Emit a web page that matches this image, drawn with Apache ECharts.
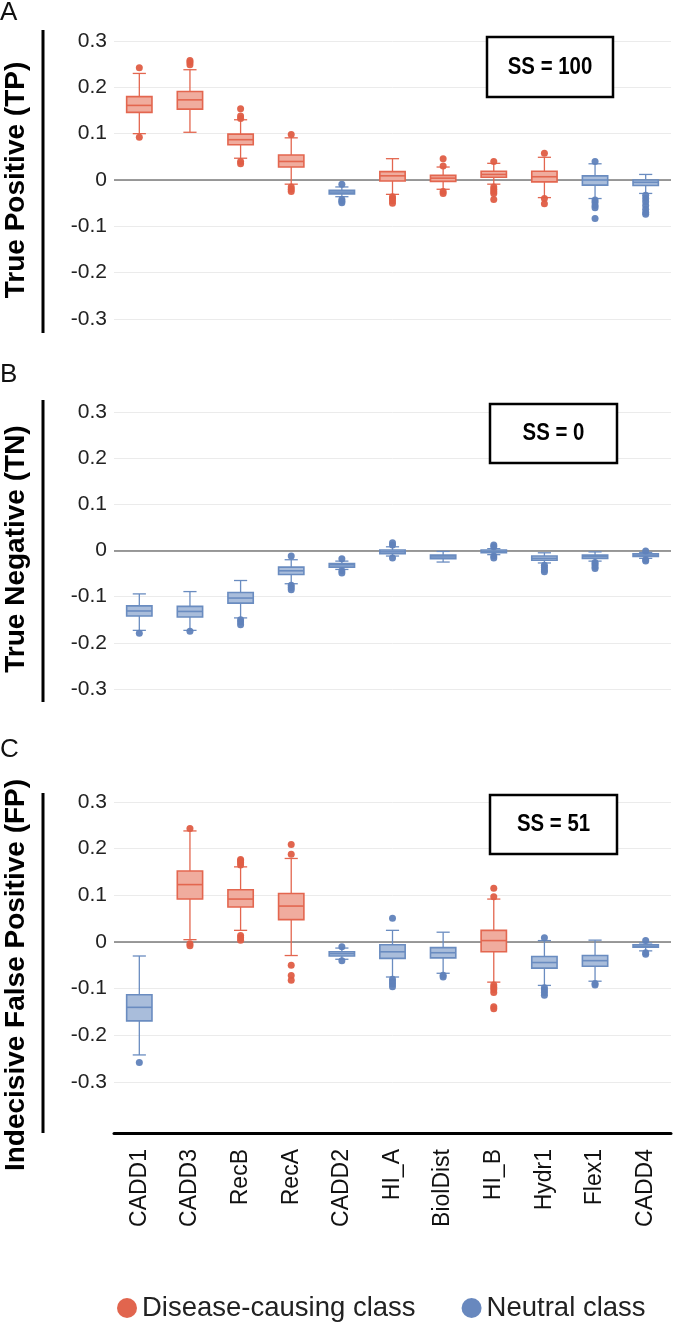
<!DOCTYPE html>
<html><head><meta charset="utf-8">
<script src="https://cdn.jsdelivr.net/npm/echarts@6/dist/echarts.min.js"></script>
<style>html,body{margin:0;padding:0;background:#fff}#c{width:677px;height:1331px}</style>
</head><body><div id="c"></div>
<script>
// ---------- DATA ----------
const categories = ['CADD1','CADD3','RecB','RecA','CADD2','HI_A','BiolDist','HI_B','Hydr1','Flex1','CADD4'];
const classNames = ['Disease-causing class','Neutral class'];
const yTicks = [-0.3,-0.2,-0.1,0,0.1,0.2,0.3];
const panelTitles = ['True Positive (TP)','True Negative (TN)','Indecisive False Positive (FP)'];
const panelLetters = ['A','B','C'];
const ssLabels = ['SS = 100','SS = 0','SS = 51'];

// class per category: 0 = disease-causing, 1 = neutral
const tpClass = [0,0,0,0,1,0,0,0,0,1,1];
const tnClass = [1,1,1,1,1,1,1,1,1,1,1];
const fpClass = [1,0,0,0,1,1,1,0,1,1,1];

// [lower whisker, Q1, median, Q3, upper whisker]
const tpBoxes = [
  [0.100,0.146,0.161,0.180,0.230],
  [0.103,0.153,0.173,0.191,0.238],
  [0.047,0.076,0.087,0.099,0.130],
  [-0.009,0.028,0.040,0.054,0.091],
  [-0.036,-0.030,-0.026,-0.022,-0.015],
  [-0.031,-0.002,0.009,0.018,0.046],
  [-0.020,-0.003,0.004,0.010,0.028],
  [-0.009,0.006,0.012,0.019,0.036],
  [-0.038,-0.004,0.007,0.019,0.049],
  [-0.040,-0.011,0.000,0.009,0.035],
  [-0.029,-0.012,-0.005,0.000,0.012]
];
const tpOutliers = [
  [0.242,0.092],
  [0.249,0.254,0.258],
  [0.133,0.138,0.154,0.040,0.035],
  [0.098,-0.015,-0.020,-0.025],
  [-0.009,-0.042,-0.046,-0.049],
  [-0.036,-0.040,-0.045,-0.050],
  [0.030,0.046,-0.025,-0.029],
  [0.040,-0.015,-0.020,-0.025,-0.029,-0.042],
  [0.058,-0.040,-0.051],
  [0.040,-0.043,-0.048,-0.055,-0.060,-0.083],
  [-0.033,-0.040,-0.047,-0.055,-0.063,-0.070,-0.074]
];

const tnBoxes = [
  [-0.173,-0.142,-0.131,-0.120,-0.094],
  [-0.173,-0.144,-0.132,-0.121,-0.089],
  [-0.146,-0.114,-0.103,-0.091,-0.065],
  [-0.072,-0.052,-0.044,-0.036,-0.020],
  [-0.041,-0.036,-0.031,-0.028,-0.023],
  [-0.012,-0.007,-0.003,0.001,0.008],
  [-0.025,-0.018,-0.014,-0.010,-0.002],
  [-0.009,-0.005,-0.002,0.001,0.004],
  [-0.027,-0.021,-0.017,-0.012,-0.005],
  [-0.023,-0.017,-0.013,-0.010,-0.003],
  [-0.017,-0.013,-0.010,-0.007,-0.004]
];
const tnOutliers = [
  [-0.179],
  [-0.175],
  [-0.150,-0.155,-0.161],
  [-0.012,-0.075,-0.080,-0.085],
  [-0.018,-0.044,-0.049],
  [0.012,0.017,-0.016],
  [],
  [0.008,0.012,-0.012,-0.016],
  [-0.032,-0.037,-0.042,-0.046],
  [-0.026,-0.030,-0.035,-0.039],
  [-0.001,-0.020,-0.023]
];

const fpBoxes = [
  [-0.242,-0.169,-0.140,-0.113,-0.030],
  [0.005,0.092,0.123,0.152,0.238],
  [0.025,0.075,0.092,0.112,0.161],
  [-0.029,0.048,0.077,0.104,0.179],
  [-0.037,-0.030,-0.025,-0.021,-0.013],
  [-0.075,-0.035,-0.021,-0.006,0.025],
  [-0.067,-0.034,-0.023,-0.012,0.021],
  [-0.086,-0.021,0.003,0.025,0.092],
  [-0.093,-0.056,-0.044,-0.031,0.003],
  [-0.084,-0.052,-0.040,-0.029,0.004],
  [-0.019,-0.011,-0.009,-0.006,-0.002]
];
const fpOutliers = [
  [-0.258],
  [0.243,-0.004,-0.008],
  [0.165,0.170,0.174,0.177,0.014,0.009,0.004],
  [0.188,0.209,-0.050,-0.072,-0.082],
  [-0.010,-0.040],
  [0.051,-0.080,-0.085,-0.090,-0.096],
  [-0.071,-0.075],
  [0.097,0.115,-0.092,-0.097,-0.102,-0.108,-0.139,-0.143],
  [0.009,-0.098,-0.103,-0.108,-0.114],
  [-0.089,-0.092],
  [0.003,-0.023,-0.026]
];

// ---------- STYLE ----------
const STROKE = ['#E3664F','#6A8CC0'];
const FILL = ['#F0AC9E','#A9BDDB'];
const DOT = ['#DF5D44','#6082BA'];
const FONT = "'Liberation Sans', Arial, sans-serif";

const panels = [
  {boxes: tpBoxes, outliers: tpOutliers, cls: tpClass},
  {boxes: tnBoxes, outliers: tnOutliers, cls: tnClass},
  {boxes: fpBoxes, outliers: fpOutliers, cls: fpClass}
];
const gridDefs = [
  {left:114, right:6, top:41, height:278},
  {left:114, right:6, top:412, height:277},
  {left:114, right:6, top:802, height:280}
];

function renderBox(params, api) {
  const i = api.value(0);
  const c = api.value(6);
  const stroke = STROKE[c], fill = FILL[c];
  const x = api.coord([i, 0])[0];
  const band = api.size([1, 0])[0];
  const bw = band * 0.5, cw = band * 0.26;
  const y = k => api.coord([i, api.value(k)])[1];
  const yMin = y(1), yQ1 = y(2), yMed = y(3), yQ3 = y(4), yMax = y(5);
  const ls = {stroke: stroke, lineWidth: 1.3};
  return {type:'group', children:[
    {type:'line', shape:{x1:x, y1:yMax, x2:x, y2:yQ3}, style:ls},
    {type:'line', shape:{x1:x, y1:yQ1, x2:x, y2:yMin}, style:ls},
    {type:'line', shape:{x1:x-cw/2, y1:yMax, x2:x+cw/2, y2:yMax}, style:ls},
    {type:'line', shape:{x1:x-cw/2, y1:yMin, x2:x+cw/2, y2:yMin}, style:ls},
    {type:'rect', shape:{x:x-bw/2, y:yQ3, width:bw, height:Math.max(yQ1-yQ3,1)}, style:{fill:fill, stroke:stroke, lineWidth:1.6}},
    {type:'line', shape:{x1:x-bw/2, y1:yMed, x2:x+bw/2, y2:yMed}, style:{stroke:stroke, lineWidth:1.6}}
  ]};
}

const grid = gridDefs;
const xAxis = [], yAxis = [], series = [];
panels.forEach((p, g) => {
  const last = g === 2;
  xAxis.push({
    type:'category', data:categories, gridIndex:g, boundaryGap:true,
    axisLine:{show:last, onZero:false, lineStyle:{color:'#000', width:3}},
    offset: last ? 51 : 0,
    axisTick:{show:false},
    axisLabel:{show:last, rotate:90, fontSize:23, color:'#111', margin:16, fontFamily:FONT},
    splitLine:{show:false}
  });
  yAxis.push({
    type:'value', gridIndex:g, min:-0.3, max:0.3, interval:0.1,
    axisLine:{show:false}, axisTick:{show:false},
    axisLabel:{fontSize:21, color:'#222', margin:7, fontFamily:FONT,
      formatter: v => { const r = Math.round(v*10)/10; return r === 0 ? '0' : r.toFixed(1); }},
    splitLine:{lineStyle:{color:'#ebebeb', width:1}}
  });
  series.push({
    type:'custom', xAxisIndex:g, yAxisIndex:g, renderItem:renderBox,
    encode:{x:0, y:[1,2,3,4,5]},
    data: p.boxes.map((b, i) => [i, b[0], b[1], b[2], b[3], b[4], p.cls[i]]),
    z:3,
    markLine:{silent:true, symbol:'none', label:{show:false},
      lineStyle:{color:'#7a7a7a', width:1.5, type:'solid'}, data:[{yAxis:0}], z:2}
  });
  [0,1].forEach(c => {
    const pts = [];
    p.outliers.forEach((arr, i) => {
      if (p.cls[i] !== c) return;
      arr.forEach(v => pts.push([i, v]));
    });
    series.push({
      type:'scatter', name:classNames[c], xAxisIndex:g, yAxisIndex:g,
      symbol:'circle', symbolSize:7, data:pts, z:4,
      itemStyle:{color:DOT[c], opacity:0.95}
    });
  });
});

const graphic = [];
const letterTops = [0, 362, 737];
const lineSpans = [[30,333],[400,702],[793,1133]];
const titleCenters = [180, 549, 975];
const boxRects = [[487,37,126,60],[490,404,127,59],[490,795,127,59]];
for (let g = 0; g < 3; g++) {
  graphic.push({type:'text', left:0, top:letterTops[g], style:{text:panelLetters[g], font:'26px ' + FONT, fill:'#111'}});
  graphic.push({type:'line', shape:{x1:43, y1:lineSpans[g][0], x2:43, y2:lineSpans[g][1]}, style:{stroke:'#000', lineWidth:3}});
  graphic.push({type:'text', x:16, y:titleCenters[g], rotation:Math.PI/2,
    style:{text:panelTitles[g], font:'bold 28px ' + FONT, fill:'#000', textAlign:'center', textVerticalAlign:'middle'}});
  const r = boxRects[g];
  graphic.push({type:'rect', shape:{x:r[0], y:r[1], width:r[2], height:r[3]}, style:{fill:'#fff', stroke:'#000', lineWidth:2.5}, z:10});
  graphic.push({type:'text', x:r[0]+r[2]/2, y:r[1]+r[3]/2, z:11, scaleX:0.85,
    style:{text:ssLabels[g], font:'bold 24px ' + FONT, fill:'#000', textAlign:'center', textVerticalAlign:'middle'}});
}

const chart = echarts.init(document.getElementById('c'), null, {renderer:'canvas'});
chart.setOption({
  animation:false,
  backgroundColor:'#fff',
  grid, xAxis, yAxis, series, graphic,
  legend:{
    data:classNames.map(n => ({name:n, icon:'circle'})),
    top:1289, left:112, itemWidth:20, itemHeight:20, itemGap:46,
    textStyle:{fontSize:27.5, color:'#222', fontFamily:FONT}
  }
});
</script>
</body></html>
